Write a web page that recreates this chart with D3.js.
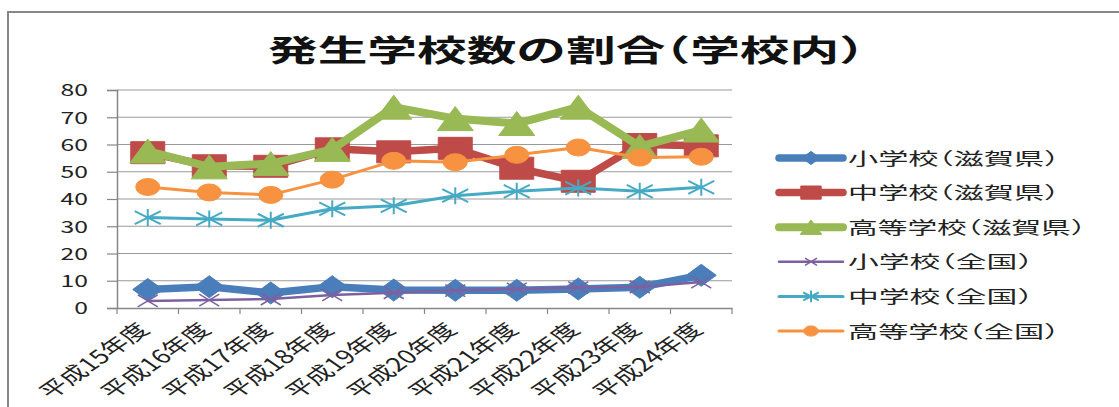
<!DOCTYPE html>
<html><head><meta charset="utf-8">
<script src="https://cdn.jsdelivr.net/npm/d3@7"></script>
<style>html,body{margin:0;padding:0;background:#fff;}svg{display:block;}
.halt{font-feature-settings:"halt" 1;}</style>
</head><body>
<svg id="chart" width="1119" height="407"></svg>
<script>
const title = "発生学校数の割合（学校内）";
const categories = ["平成15年度","平成16年度","平成17年度","平成18年度","平成19年度","平成20年度","平成21年度","平成22年度","平成23年度","平成24年度"];
const yTicks = [0,10,20,30,40,50,60,70,80];
const seriesNames = ["小学校（滋賀県）","中学校（滋賀県）","高等学校（滋賀県）","小学校（全国）","中学校（全国）","高等学校（全国）"];
const shigaElementary = [6.8, 7.8, 5.5, 7.8, 6.6, 6.5, 6.5, 7.0, 7.6, 12.0];
const shigaJunior     = [57.0, 52.2, 52.0, 58.4, 57.3, 58.6, 51.3, 46.5, 60.0, 59.5];
const shigaHigh       = [57.6, 51.8, 53.0, 58.2, 73.7, 69.5, 67.7, 73.7, 59.3, 65.3];
const natElementary   = [2.6, 2.9, 3.3, 4.8, 5.6, 6.4, 7.0, 7.5, 7.7, 9.5];
const natJunior       = [33.2, 32.7, 32.2, 36.4, 37.5, 41.2, 42.8, 44.0, 42.8, 44.3];
const natHigh         = [44.4, 42.4, 41.5, 47.1, 54.0, 53.5, 56.2, 58.9, 55.2, 55.5];

const seriesValues = [shigaElementary, shigaJunior, shigaHigh, natElementary, natJunior, natHigh];
const styles = [
  {color:"#4a7ebb", lw:7.5, marker:"diamond", w:30, h:22, lw2:0},
  {color:"#be4b48", lw:7.5, marker:"square", w:34, h:22, lw2:0},
  {color:"#98b954", lw:8, marker:"triangle", w:36, h:24, lw2:0},
  {color:"#7d60a0", lw:2.5, marker:"x", w:20, h:12, lw2:1.5},
  {color:"#46aac5", lw:3, marker:"star", w:26, h:13, lw2:2},
  {color:"#f69240", lw:3, marker:"circle", w:24, h:17, lw2:0}
];
const FONT = "'Noto Sans CJK JP','Noto Sans',sans-serif";

const svg = d3.select("#chart");
svg.append("rect").attr("x",8).attr("y",12).attr("width",1120).attr("height",410)
  .attr("fill","#fff").attr("stroke","#878787").attr("stroke-width",2);

svg.append("text").attr("class","halt").attr("x",566).attr("y",61).attr("text-anchor","middle")
  .attr("font-family",FONT).attr("font-weight","bold").attr("font-size",30)
  .attr("textLength",596).attr("lengthAdjust","spacingAndGlyphs")
  .attr("fill","#111").text(title);

const x = d3.scaleBand().domain(categories).range([117,732]);
const y = d3.scaleLinear().domain([0,80]).range([308,90]);
const cx = d => x(d) + x.bandwidth()/2;

svg.append("g").selectAll("line").data(yTicks.filter(t=>t>0)).join("line")
  .attr("x1",117).attr("x2",732).attr("y1",d=>y(d)).attr("y2",d=>y(d))
  .attr("stroke","#9a9a9a").attr("stroke-width",1.2);

const yAxis = d3.axisLeft(y).tickValues(yTicks).tickSize(10).tickPadding(0).tickFormat(d=>d);
const gy = svg.append("g").attr("transform","translate(117,0)").call(yAxis);
gy.select(".domain").attr("stroke","#878787").attr("stroke-width",1.5);
gy.selectAll(".tick line").attr("stroke","#878787").attr("stroke-width",1.2);
gy.selectAll(".tick text").attr("font-family",FONT).attr("font-size",16.5).attr("fill","#222")
  .attr("text-anchor","end").attr("dy","0.36em")
  .attr("transform","translate(-29,0) scale(1.5,1)").attr("x",0);

const gx = svg.append("g").attr("transform","translate(0,308)")
  .call(d3.axisBottom(x).tickSize(0).tickFormat(""));
gx.select(".domain").attr("stroke","#878787").attr("stroke-width",1.5);
const bounds = d3.range(categories.length+1).map(i => 117 + i*x.bandwidth());
svg.append("g").selectAll("line").data(bounds).join("line")
  .attr("x1",d=>d).attr("x2",d=>d).attr("y1",308).attr("y2",314)
  .attr("stroke","#878787").attr("stroke-width",1.2);
svg.append("g").selectAll("text").data(categories).join("text")
  .attr("transform",d=>`translate(${cx(d)+3},331) scale(1.45,1) rotate(-45)`)
  .attr("text-anchor","end").attr("font-family",FONT).attr("font-size",19).attr("fill","#222")
  .text(d=>d);

function markerPath(type,w,h){
  const a=w/2,b=h/2;
  switch(type){
    case "diamond": return `M0,${-b}L${a},0L0,${b}L${-a},0Z`;
    case "square": return `M${-a},${-b}H${a}V${b}H${-a}Z`;
    case "triangle": return `M0,${-b}L${a},${b}L${-a},${b}Z`;
    case "x": return `M${-a},${-b}L${a},${b}M${-a},${b}L${a},${-b}`;
    case "star": return `M${-a},${-b}L${a},${b}M${-a},${b}L${a},${-b}M0,${-b-2}L0,${b+2}`;
    case "circle": return `M${-a},0A${a},${b} 0 1,0 ${a},0A${a},${b} 0 1,0 ${-a},0Z`;
  }
}
function drawMarker(g,st,scale){
  const p = g.append("path").attr("d",markerPath(st.marker,st.w*scale,st.h*scale));
  if(st.marker==="x"||st.marker==="star"){
    p.attr("fill","none").attr("stroke",st.color).attr("stroke-width",st.lw2);
  } else {
    p.attr("fill",st.color).attr("stroke",st.color).attr("stroke-width",1);
  }
}

const line = d3.line().x((v,i)=>cx(categories[i])).y(v=>y(v));
seriesValues.forEach((vals,si)=>{
  const st = styles[si];
  const g = svg.append("g");
  g.append("path").datum(vals).attr("d",line).attr("fill","none")
    .attr("stroke",st.color).attr("stroke-width",st.lw).attr("stroke-linejoin","round").attr("stroke-linecap","round");
  vals.forEach((v,i)=>{
    const mg = g.append("g").attr("transform",`translate(${cx(categories[i])},${y(v)})`);
    drawMarker(mg,st,1);
  });
});

seriesNames.forEach((name,i)=>{
  const st = styles[i];
  const ly = 158 + i*34.6;
  const g = svg.append("g");
  g.append("line").attr("x1",779).attr("x2",843).attr("y1",ly).attr("y2",ly)
    .attr("stroke",st.color).attr("stroke-width",st.lw).attr("stroke-linecap","round");
  const mg = g.append("g").attr("transform",`translate(811,${ly})`);
  drawMarker(mg,st,0.6);
  g.append("text").attr("class","halt").attr("x",848).attr("y",ly+6.5).attr("font-family",FONT).attr("font-size",17)
    .attr("fill","#222").attr("textLength",name.length*26.4).attr("lengthAdjust","spacingAndGlyphs")
    .text(name);
});
</script>
</body></html>
